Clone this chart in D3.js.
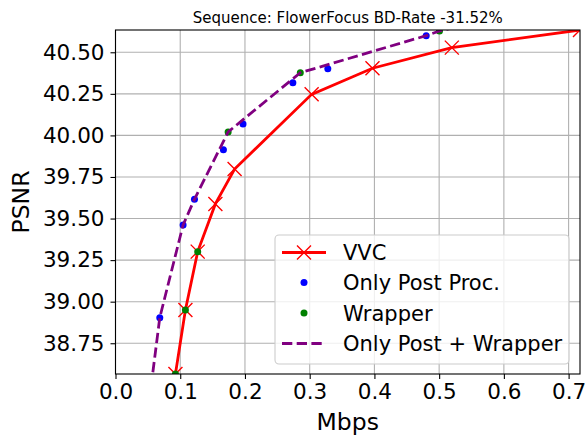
<!DOCTYPE html>
<html>
<head>
<meta charset="utf-8">
<script src="https://cdn.jsdelivr.net/npm/d3@7"></script>
<style>
  html, body { margin: 0; padding: 0; background: #fff; }
  svg { display: block; font-family: "DejaVu Sans", sans-serif; }
</style>
</head>
<body>
<svg id="chart" width="588" height="438"></svg>
<script>
// ---- Data ----
const titleText = "Sequence: FlowerFocus BD-Rate -31.52%";
const xLabel = "Mbps";
const yLabel = "PSNR";

const vvcRate = [0.0926, 0.108, 0.127, 0.1543, 0.184, 0.303, 0.397, 0.5196, 0.7176];
const vvcPsnr = [38.565, 38.950, 39.301, 39.588, 39.798, 40.247, 40.404, 40.528, 40.634];

const postRate = [0.0684, 0.1044, 0.122, 0.1667, 0.197, 0.274, 0.328, 0.480];
const postPsnr = [38.904, 39.461, 39.616, 39.914, 40.069, 40.317, 40.401, 40.600];

const wrapRate = [0.0926, 0.108, 0.127, 0.174, 0.2855, 0.5005];
const wrapPsnr = [38.565, 38.950, 39.301, 40.021, 40.377, 40.628];

const bothRate = [0.052, 0.0684, 0.1044, 0.122, 0.174, 0.2855, 0.480, 0.5005, 0.62];
const bothPsnr = [38.40, 38.904, 39.461, 39.616, 40.021, 40.377, 40.600, 40.628, 40.74];

const xTicks = [0.0, 0.1, 0.2, 0.3, 0.4, 0.5, 0.6, 0.7];
const yTicks = [38.75, 39.00, 39.25, 39.50, 39.75, 40.00, 40.25, 40.50];

const legendLabels = ["VVC", "Only Post Proc.", "Wrapper", "Only Post + Wrapper"];

// ---- Layout ----
const svg = d3.select("#chart");
const L = 115.5, R = 580, T = 30, B = 374;

const x = d3.scaleLinear().domain([0, d3.max(vvcRate)]).range([L, R]);
const y = d3.scaleLinear().domain(d3.extent(vvcPsnr)).range([B, T]);

const zip = (a, b) => a.map((v, i) => [v, b[i]]);

svg.append("defs").append("clipPath").attr("id", "clip")
  .append("rect").attr("x", L).attr("y", T).attr("width", R - L).attr("height", B - T);

// grid
const grid = svg.append("g");
grid.selectAll("line.gx").data(xTicks).join("line")
  .attr("x1", d => x(d)).attr("x2", d => x(d)).attr("y1", T).attr("y2", B)
  .attr("stroke", "#b0b0b0").attr("stroke-width", 1.1);
grid.selectAll("line.gy").data(yTicks).join("line")
  .attr("y1", d => y(d)).attr("y2", d => y(d)).attr("x1", L).attr("x2", R)
  .attr("stroke", "#b0b0b0").attr("stroke-width", 1.1);

// axes
const xAxis = d3.axisBottom(x).tickValues(xTicks).tickFormat(d3.format(".1f")).tickSize(5).tickPadding(5);
const yAxis = d3.axisLeft(y).tickValues(yTicks).tickFormat(d3.format(".2f")).tickSize(5).tickPadding(6);

const gx = svg.append("g").attr("transform", `translate(0,${B})`).call(xAxis);
const gy = svg.append("g").attr("transform", `translate(${L},0)`).call(yAxis);
[gx, gy].forEach(g => {
  g.select(".domain").remove();
  g.selectAll(".tick line").attr("stroke", "#000").attr("stroke-width", 1.1);
  g.selectAll(".tick text").attr("fill", "#000").style("font-size", "21.5px")
    .style("font-family", "DejaVu Sans, sans-serif");
});

// plot content
const plot = svg.append("g").attr("clip-path", "url(#clip)");
const line = d3.line().x(d => x(d[0])).y(d => y(d[1]));

plot.append("path").datum(zip(vvcRate, vvcPsnr)).attr("d", line)
  .attr("fill", "none").attr("stroke", "#ff0000").attr("stroke-width", 2.8);

const xm = 7;
plot.selectAll("path.xm").data(zip(vvcRate, vvcPsnr)).join("path")
  .attr("d", d => {
    const cx = x(d[0]), cy = y(d[1]);
    return `M${cx - xm},${cy - xm}L${cx + xm},${cy + xm}M${cx - xm},${cy + xm}L${cx + xm},${cy - xm}`;
  })
  .attr("stroke", "#ff0000").attr("stroke-width", 1.4).attr("fill", "none");

plot.selectAll("circle.post").data(zip(postRate, postPsnr)).join("circle")
  .attr("cx", d => x(d[0])).attr("cy", d => y(d[1])).attr("r", 3.5).attr("fill", "#0000ff");

plot.selectAll("circle.wrap").data(zip(wrapRate, wrapPsnr)).join("circle")
  .attr("cx", d => x(d[0])).attr("cy", d => y(d[1])).attr("r", 3.5).attr("fill", "#008000");

plot.append("path").datum(zip(bothRate, bothPsnr)).attr("d", line)
  .attr("fill", "none").attr("stroke", "#800080").attr("stroke-width", 2.8)
  .attr("stroke-dasharray", "10.3,4.4");

// spines
svg.append("rect").attr("x", L).attr("y", T).attr("width", R - L).attr("height", B - T)
  .attr("fill", "none").attr("stroke", "#000").attr("stroke-width", 1.1);

// title & labels
svg.append("text").attr("x", (L + R) / 2).attr("y", 23).attr("text-anchor", "middle")
  .style("font-size", "15px").text(titleText);
svg.append("text").attr("x", (L + R) / 2).attr("y", 430).attr("text-anchor", "middle")
  .style("font-size", "23.5px").text(xLabel);
svg.append("text").attr("transform", `translate(29,${(T + B) / 2}) rotate(-90)`)
  .attr("text-anchor", "middle").style("font-size", "23.5px").text(yLabel);

// legend
const lg = svg.append("g");
lg.append("rect").attr("x", 275).attr("y", 235).attr("width", 294).attr("height", 129)
  .attr("rx", 4).attr("fill", "#fff").attr("fill-opacity", 0.8)
  .attr("stroke", "#cccccc").attr("stroke-width", 1.1);
const rowY = [252.5, 282.5, 313, 343.5];
const hx0 = 282, hx1 = 326, hxc = 304, tx = 343;
// VVC
lg.append("line").attr("x1", hx0).attr("x2", hx1).attr("y1", rowY[0]).attr("y2", rowY[0])
  .attr("stroke", "#ff0000").attr("stroke-width", 2.8);
lg.append("path").attr("d", `M${hxc - xm},${rowY[0] - xm}L${hxc + xm},${rowY[0] + xm}M${hxc - xm},${rowY[0] + xm}L${hxc + xm},${rowY[0] - xm}`)
  .attr("stroke", "#ff0000").attr("stroke-width", 1.4);
lg.append("circle").attr("cx", hxc).attr("cy", rowY[1]).attr("r", 3.5).attr("fill", "#0000ff");
lg.append("circle").attr("cx", hxc).attr("cy", rowY[2]).attr("r", 3.5).attr("fill", "#008000");
lg.append("line").attr("x1", hx0).attr("x2", hx1).attr("y1", rowY[3]).attr("y2", rowY[3])
  .attr("stroke", "#800080").attr("stroke-width", 2.8).attr("stroke-dasharray", "10.3,4.4");
lg.selectAll("text.lt").data(legendLabels).join("text")
  .attr("x", tx).attr("y", (d, i) => rowY[i]).attr("dy", "0.36em")
  .style("font-size", "21px").text(d => d);
</script>
</body>
</html>
